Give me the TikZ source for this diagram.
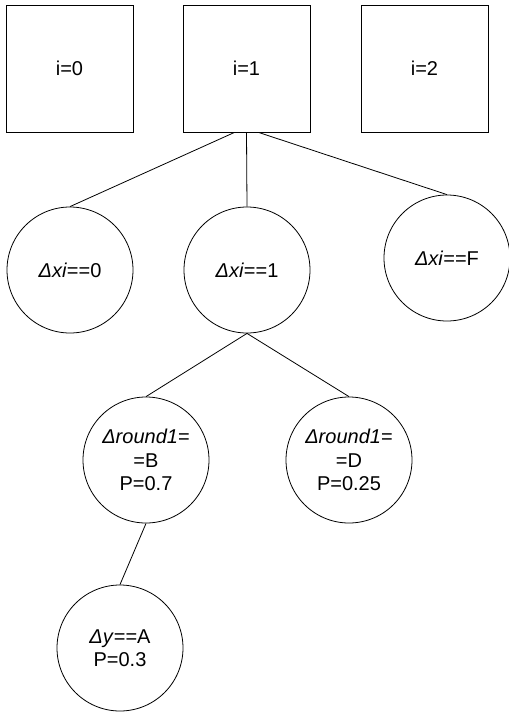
\documentclass[tikz,border=0pt]{standalone}
\usepackage{fontspec}
\setmainfont{Liberation Sans}
\tikzset{
  caja/.style={draw, rectangle, minimum size=127pt, inner sep=0pt},
  nodo/.style={draw, circle, minimum size=126pt, inner sep=0pt, align=center},
}
\begin{document}
\begin{tikzpicture}[x=1pt, y=-1pt, line width=0.8pt, font=\fontsize{20}{23.5}\selectfont]
      \useasboundingbox (0,0) rectangle (509,713);

      % Cajas de arriba
      \node[caja] (i0) at (69.5,68.5) {i=0};
      \node[caja] (i1) at (246.5,68.5) {i=1};
      \node[caja] (i2) at (424.5,68.5) {i=2};

      % Primer nivel
      \node[nodo] (x0) at (70,270) {\textit{Δxi}==0};
      \node[nodo] (x1) at (247,270) {\textit{Δxi}==1};
      \node[nodo] (xF) at (447,258) {\textit{Δxi}==F};

      % Segundo nivel
      \node[nodo] (rB) at (146,460) {\textit{Δround1}=\\=B\\P=0.7};
      \node[nodo] (rD) at (349,460) {\textit{Δround1}=\\=D\\P=0.25};

      % Tercer nivel
      \node[nodo] (yA) at (120,648) {\textit{Δy}==A\\P=0.3};

      % Aristas
      \draw ([xshift=-12pt]i1.south) -- (x0.north);
      \draw (i1.south) -- (x1.north);
      \draw ([xshift=12pt]i1.south) -- (xF.north);
      \draw (x1.south) -- (rB.north);
      \draw (x1.south) -- (rD.north);
      \draw (rB.south) -- (yA.north);
    \end{tikzpicture}
\end{document}
